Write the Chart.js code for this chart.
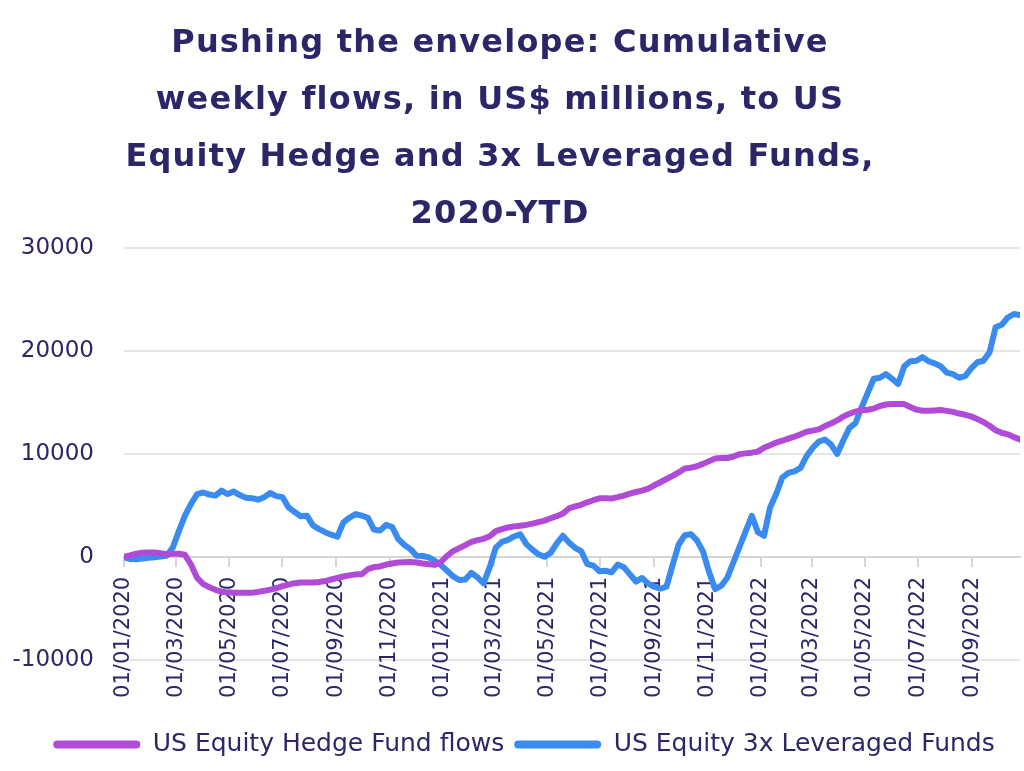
<!DOCTYPE html>
<html>
<head>
<meta charset="utf-8">
<script src="https://cdn.jsdelivr.net/npm/chart.js@4.4.0/dist/chart.umd.min.js"></script>
<style>
  html, body { margin: 0; padding: 0; background: #fff; }
  #wrap { position: relative; width: 1024px; height: 771px; }
  #title {
    position: absolute; left: 0; top: 13px; width: 1000px;
    text-align: center; font-family: 'DejaVu Sans', sans-serif; font-weight: 700;
    font-size: 32px; letter-spacing: 1.2px; line-height: 57px; color: #2b2668;
  }
  canvas { position: absolute; left: 0; top: 0; }
</style>
</head>
<body>
<div id="wrap">
  <canvas id="chart" width="1024" height="771"></canvas>
  <div id="title">Pushing the envelope: Cumulative<br>weekly flows, in US$ millions, to US<br>Equity Hedge and 3x Leveraged Funds,<br>2020-YTD</div>
</div>
<script>
// weekly series, first observation on this date, one value per week
const firstWeek = '2020-01-01';

const hedgeFlows = [
  0, 150, 300, 400, 420, 420, 350, 260, 310, 300,
  200, -750, -2050, -2650, -2950, -3200, -3380, -3450, -3480, -3480,
  -3480, -3480, -3400, -3300, -3180, -3050, -2850, -2700, -2560, -2500,
  -2500, -2500, -2450, -2350, -2200, -2050, -1910, -1800, -1700, -1690,
  -1200, -1000, -930, -750, -650, -550, -520, -500, -550, -650,
  -715, -780, -500, 100, 550, 850, 1140, 1450, 1620, 1750,
  2000, 2500, 2700, 2850, 2960, 3030, 3100, 3230, 3380, 3520,
  3750, 3950, 4200, 4700, 4900, 5050, 5300, 5500, 5680, 5690,
  5670, 5800, 5950, 6150, 6300, 6430, 6620, 6950, 7250, 7560,
  7870, 8200, 8580, 8660, 8800, 9030, 9300, 9560, 9600, 9600,
  9750, 9980, 10050, 10120, 10220, 10600, 10850, 11100, 11280, 11480,
  11670, 11900, 12150, 12260, 12380, 12700, 12950, 13250, 13620, 13900,
  14100, 14250, 14290, 14400, 14650, 14800, 14840, 14840, 14840, 14550,
  14300, 14190, 14190, 14220, 14260, 14180, 14080, 13920, 13800, 13640,
  13380, 13100, 12730, 12300, 12050, 11900, 11630, 11400
];

const leveragedFlows = [
  -60, -200, -230, -160, -100, -30, 30, 100, 900, 2500,
  4000, 5150, 6100, 6250, 6050, 5950, 6430, 6100, 6340, 6000,
  5750, 5700, 5550, 5800, 6200, 5900, 5800, 4800, 4350, 3950,
  4000, 3050, 2700, 2400, 2150, 1950, 3350, 3800, 4150, 4000,
  3800, 2650, 2550, 3100, 2900, 1720, 1150, 750, 100, 80,
  -50, -390, -800, -1350, -1900, -2250, -2200, -1550, -2000, -2570,
  -1000, 900, 1450, 1650, 1980, 2200, 1235, 700, 250, 0,
  400, 1300, 2050, 1400, 880, 560, -700, -850, -1400, -1350,
  -1500, -750, -1000, -1700, -2400, -2050, -2600, -2900, -3100, -2900,
  -800, 1200, 2100, 2200, 1600, 500, -1500, -3140, -2800, -2000,
  -500, 1000, 2500, 3985, 2400, 2050, 4800, 6100, 7700, 8150,
  8300, 8650, 9800, 10600, 11200, 11400, 10900, 10000, 11300, 12500,
  13000, 14500, 15900, 17300, 17400, 17750, 17300, 16800, 18500, 19000,
  19050, 19400, 19000, 18800, 18500, 17900, 17750, 17400, 17550, 18300,
  18900, 19050, 19860, 22300, 22550, 23250, 23590, 23480
];

const tickDates = [
  '2020-01-01', '2020-03-01', '2020-05-01', '2020-07-01', '2020-09-01', '2020-11-01',
  '2021-01-01', '2021-03-01', '2021-05-01', '2021-07-01', '2021-09-01', '2021-11-01',
  '2022-01-01', '2022-03-01', '2022-05-01', '2022-07-01', '2022-09-01'
];

const yTicks = [-10000, 0, 10000, 20000, 30000];

const seriesNames = ['US Equity Hedge Fund flows', 'US Equity 3x Leveraged Funds'];

const navy = '#2b2668';
const purple = '#b24ad8';
const blue = '#3a8bf0';
const font = 'DejaVu Sans';

const dayOf = d => Math.round((Date.parse(d) - Date.parse(firstWeek)) / 86400000);
const tickLabel = {};
tickDates.forEach(d => {
  const [y, m, dd] = d.split('-');
  tickLabel[dayOf(d)] = dd + '/' + m + '/' + y;
});
const toPoints = arr => arr.map((v, i) => ({ x: i * 7, y: v }));

// the legend in the original sits a little right of centre
const nudgeLegend = {
  id: 'nudgeLegend',
  afterLayout(chart) {
    chart.legend.left += 14;
    chart.legend.right += 14;
  }
};

new Chart(document.getElementById('chart'), {
  type: 'line',
  data: {
    datasets: [
      {
        label: seriesNames[0], data: toPoints(hedgeFlows),
        borderColor: purple, backgroundColor: purple, borderWidth: 6,
        pointRadius: 0, tension: 0, borderJoinStyle: 'round', borderCapStyle: 'round'
      },
      {
        label: seriesNames[1], data: toPoints(leveragedFlows),
        borderColor: blue, backgroundColor: blue, borderWidth: 6,
        pointRadius: 0, tension: 0, borderJoinStyle: 'round', borderCapStyle: 'round'
      }
    ]
  },
  plugins: [nudgeLegend],
  options: {
    responsive: false,
    animation: false,
    devicePixelRatio: 1,
    layout: { padding: { top: 248, left: 0, right: 4, bottom: 4 } },
    scales: {
      x: {
        type: 'linear',
        position: { y: 0 },
        min: 0,
        max: (hedgeFlows.length - 1) * 7,
        afterBuildTicks: axis => { axis.ticks = tickDates.map(d => ({ value: dayOf(d) })); },
        grid: { drawOnChartArea: false, drawTicks: true, tickLength: 9, color: '#d6d6d6', lineWidth: 2 },
        border: { display: true, color: '#d6d6d6', width: 2 },
        ticks: {
          autoSkip: false, minRotation: 90, maxRotation: 90, padding: 11,
          color: navy, font: { family: font, size: 21 },
          callback: v => tickLabel[v] || ''
        }
      },
      y: {
        min: -10000, max: 30000,
        afterBuildTicks: axis => { axis.ticks = yTicks.map(v => ({ value: v })); },
        afterFit: axis => { axis.width = 124; },
        grid: { color: '#e6e6e6', lineWidth: 2, drawTicks: false },
        border: { display: false },
        ticks: { padding: 30, color: navy, font: { family: font, size: 23 }, callback: v => String(v) }
      }
    },
    plugins: {
      tooltip: { enabled: false },
      title: { display: false },
      legend: {
        position: 'bottom',
        title: { display: true, text: ' ', font: { size: 1 }, padding: { top: 61, bottom: 0 } },
        labels: {
          boxWidth: 87, boxHeight: 8, padding: 10, useBorderRadius: true, borderRadius: 4,
          color: navy, font: { family: font, size: 25 },
          generateLabels: chart => {
            const items = Chart.defaults.plugins.legend.labels.generateLabels(chart);
            items.forEach(it => { it.fillStyle = it.strokeStyle; it.lineWidth = 0; });
            return items;
          }
        }
      }
    }
  }
});
</script>
</body>
</html>
